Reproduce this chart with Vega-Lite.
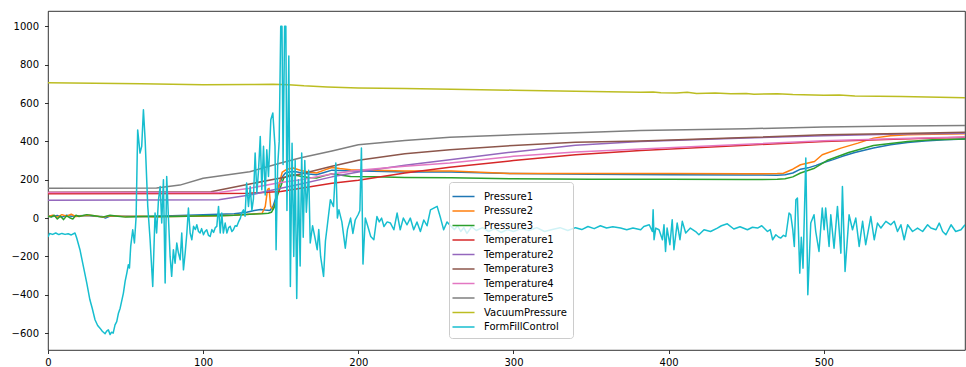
{
"$schema": "https://vega.github.io/schema/vega-lite/v6.json",
"width": 917, "height": 339,
"autosize": {"type": "none"},
"padding": {"left": 48, "top": 11, "right": 1, "bottom": 17},
"background": "white",
"config": {"view": {"stroke": "#000", "strokeWidth": 0.8}, "font": "DejaVu Sans"},
"data": {"values": [
{"s":"Pressure1","x":0,"y":12},{"s":"Pressure1","x":3,"y":8},{"s":"Pressure1","x":6,"y":14},{"s":"Pressure1","x":9,"y":5},{"s":"Pressure1","x":12,"y":15},{"s":"Pressure1","x":15,"y":10},{"s":"Pressure1","x":20,"y":12},{"s":"Pressure1","x":25,"y":14},{"s":"Pressure1","x":30,"y":10},{"s":"Pressure1","x":35,"y":8},{"s":"Pressure1","x":37,"y":0},{"s":"Pressure1","x":40,"y":10},{"s":"Pressure1","x":50,"y":10},{"s":"Pressure1","x":60,"y":8},{"s":"Pressure1","x":70,"y":10},{"s":"Pressure1","x":80,"y":12},{"s":"Pressure1","x":90,"y":15},{"s":"Pressure1","x":100,"y":18},{"s":"Pressure1","x":110,"y":20},{"s":"Pressure1","x":120,"y":22},{"s":"Pressure1","x":128,"y":30},{"s":"Pressure1","x":133,"y":40},{"s":"Pressure1","x":137,"y":45},{"s":"Pressure1","x":140,"y":42},{"s":"Pressure1","x":143,"y":40},{"s":"Pressure1","x":145,"y":60},{"s":"Pressure1","x":147,"y":110},{"s":"Pressure1","x":149,"y":170},{"s":"Pressure1","x":151,"y":215},{"s":"Pressure1","x":153,"y":235},{"s":"Pressure1","x":156,"y":242},{"s":"Pressure1","x":159,"y":243},{"s":"Pressure1","x":163,"y":236},{"s":"Pressure1","x":168,"y":230},{"s":"Pressure1","x":173,"y":226},{"s":"Pressure1","x":178,"y":238},{"s":"Pressure1","x":183,"y":250},{"s":"Pressure1","x":188,"y":248},{"s":"Pressure1","x":195,"y":245},{"s":"Pressure1","x":210,"y":244},{"s":"Pressure1","x":230,"y":240},{"s":"Pressure1","x":260,"y":240},{"s":"Pressure1","x":300,"y":232},{"s":"Pressure1","x":350,"y":228},{"s":"Pressure1","x":400,"y":226},{"s":"Pressure1","x":450,"y":225},{"s":"Pressure1","x":470,"y":224},{"s":"Pressure1","x":475,"y":226},{"s":"Pressure1","x":480,"y":235},{"s":"Pressure1","x":485,"y":255},{"s":"Pressure1","x":490,"y":262},{"s":"Pressure1","x":495,"y":275},{"s":"Pressure1","x":500,"y":290},{"s":"Pressure1","x":506,"y":305},{"s":"Pressure1","x":512,"y":322},{"s":"Pressure1","x":520,"y":342},{"s":"Pressure1","x":532,"y":365},{"s":"Pressure1","x":543,"y":382},{"s":"Pressure1","x":554,"y":394},{"s":"Pressure1","x":565,"y":402},{"s":"Pressure1","x":578,"y":408},{"s":"Pressure1","x":591,"y":412},
{"s":"Pressure2","x":0,"y":8},{"s":"Pressure2","x":3,"y":15},{"s":"Pressure2","x":6,"y":5},{"s":"Pressure2","x":9,"y":18},{"s":"Pressure2","x":12,"y":10},{"s":"Pressure2","x":15,"y":20},{"s":"Pressure2","x":18,"y":8},{"s":"Pressure2","x":22,"y":12},{"s":"Pressure2","x":27,"y":15},{"s":"Pressure2","x":32,"y":10},{"s":"Pressure2","x":36,"y":5},{"s":"Pressure2","x":40,"y":12},{"s":"Pressure2","x":50,"y":8},{"s":"Pressure2","x":60,"y":10},{"s":"Pressure2","x":70,"y":6},{"s":"Pressure2","x":80,"y":8},{"s":"Pressure2","x":90,"y":10},{"s":"Pressure2","x":100,"y":10},{"s":"Pressure2","x":110,"y":12},{"s":"Pressure2","x":120,"y":15},{"s":"Pressure2","x":130,"y":20},{"s":"Pressure2","x":138,"y":25},{"s":"Pressure2","x":140,"y":60},{"s":"Pressure2","x":141.5,"y":150},{"s":"Pressure2","x":142.5,"y":155},{"s":"Pressure2","x":143.5,"y":60},{"s":"Pressure2","x":145,"y":45},{"s":"Pressure2","x":147,"y":90},{"s":"Pressure2","x":149,"y":180},{"s":"Pressure2","x":151,"y":240},{"s":"Pressure2","x":154,"y":255},{"s":"Pressure2","x":158,"y":261},{"s":"Pressure2","x":163,"y":248},{"s":"Pressure2","x":168,"y":240},{"s":"Pressure2","x":173,"y":235},{"s":"Pressure2","x":178,"y":250},{"s":"Pressure2","x":183,"y":264},{"s":"Pressure2","x":188,"y":258},{"s":"Pressure2","x":195,"y":252},{"s":"Pressure2","x":210,"y":250},{"s":"Pressure2","x":230,"y":245},{"s":"Pressure2","x":260,"y":245},{"s":"Pressure2","x":300,"y":232},{"s":"Pressure2","x":350,"y":232},{"s":"Pressure2","x":400,"y":232},{"s":"Pressure2","x":450,"y":231},{"s":"Pressure2","x":470,"y":232},{"s":"Pressure2","x":474,"y":234},{"s":"Pressure2","x":480,"y":255},{"s":"Pressure2","x":485,"y":278},{"s":"Pressure2","x":494,"y":295},{"s":"Pressure2","x":499,"y":330},{"s":"Pressure2","x":511,"y":365},{"s":"Pressure2","x":522,"y":391},{"s":"Pressure2","x":532,"y":417},{"s":"Pressure2","x":543,"y":429},{"s":"Pressure2","x":554,"y":434},{"s":"Pressure2","x":570,"y":437},{"s":"Pressure2","x":591,"y":440},
{"s":"Pressure3","x":0,"y":10},{"s":"Pressure3","x":2,"y":5},{"s":"Pressure3","x":4,"y":15},{"s":"Pressure3","x":6,"y":-5},{"s":"Pressure3","x":8,"y":10},{"s":"Pressure3","x":10,"y":-8},{"s":"Pressure3","x":12,"y":12},{"s":"Pressure3","x":14,"y":2},{"s":"Pressure3","x":16,"y":-5},{"s":"Pressure3","x":18,"y":15},{"s":"Pressure3","x":20,"y":8},{"s":"Pressure3","x":25,"y":18},{"s":"Pressure3","x":30,"y":12},{"s":"Pressure3","x":35,"y":5},{"s":"Pressure3","x":40,"y":15},{"s":"Pressure3","x":45,"y":10},{"s":"Pressure3","x":50,"y":5},{"s":"Pressure3","x":60,"y":8},{"s":"Pressure3","x":70,"y":10},{"s":"Pressure3","x":80,"y":8},{"s":"Pressure3","x":90,"y":10},{"s":"Pressure3","x":100,"y":12},{"s":"Pressure3","x":110,"y":12},{"s":"Pressure3","x":120,"y":15},{"s":"Pressure3","x":130,"y":20},{"s":"Pressure3","x":138,"y":22},{"s":"Pressure3","x":142,"y":25},{"s":"Pressure3","x":144,"y":30},{"s":"Pressure3","x":146,"y":60},{"s":"Pressure3","x":148,"y":120},{"s":"Pressure3","x":150,"y":165},{"s":"Pressure3","x":152,"y":210},{"s":"Pressure3","x":155,"y":222},{"s":"Pressure3","x":158,"y":226},{"s":"Pressure3","x":163,"y":218},{"s":"Pressure3","x":168,"y":212},{"s":"Pressure3","x":173,"y":209},{"s":"Pressure3","x":178,"y":220},{"s":"Pressure3","x":183,"y":231},{"s":"Pressure3","x":188,"y":225},{"s":"Pressure3","x":195,"y":217},{"s":"Pressure3","x":210,"y":215},{"s":"Pressure3","x":230,"y":212},{"s":"Pressure3","x":260,"y":210},{"s":"Pressure3","x":300,"y":205},{"s":"Pressure3","x":350,"y":203},{"s":"Pressure3","x":400,"y":202},{"s":"Pressure3","x":450,"y":201},{"s":"Pressure3","x":470,"y":202},{"s":"Pressure3","x":475,"y":205},{"s":"Pressure3","x":480,"y":215},{"s":"Pressure3","x":485,"y":235},{"s":"Pressure3","x":494,"y":260},{"s":"Pressure3","x":502,"y":300},{"s":"Pressure3","x":516,"y":342},{"s":"Pressure3","x":532,"y":379},{"s":"Pressure3","x":554,"y":400},{"s":"Pressure3","x":570,"y":408},{"s":"Pressure3","x":591,"y":412},
{"s":"Temperature1","x":0,"y":127},{"s":"Temperature1","x":110,"y":128},{"s":"Temperature1","x":130,"y":130},{"s":"Temperature1","x":150,"y":139},{"s":"Temperature1","x":163,"y":156},{"s":"Temperature1","x":183,"y":182},{"s":"Temperature1","x":200,"y":197},{"s":"Temperature1","x":230,"y":235},{"s":"Temperature1","x":259,"y":265},{"s":"Temperature1","x":300,"y":300},{"s":"Temperature1","x":340,"y":330},{"s":"Temperature1","x":382,"y":353},{"s":"Temperature1","x":450,"y":380},{"s":"Temperature1","x":500,"y":400},{"s":"Temperature1","x":550,"y":413},{"s":"Temperature1","x":591,"y":422},
{"s":"Temperature2","x":0,"y":93},{"s":"Temperature2","x":110,"y":95},{"s":"Temperature2","x":130,"y":120},{"s":"Temperature2","x":150,"y":156},{"s":"Temperature2","x":163,"y":178},{"s":"Temperature2","x":183,"y":215},{"s":"Temperature2","x":200,"y":240},{"s":"Temperature2","x":230,"y":275},{"s":"Temperature2","x":259,"y":304},{"s":"Temperature2","x":300,"y":345},{"s":"Temperature2","x":340,"y":380},{"s":"Temperature2","x":382,"y":400},{"s":"Temperature2","x":450,"y":418},{"s":"Temperature2","x":500,"y":430},{"s":"Temperature2","x":550,"y":438},{"s":"Temperature2","x":591,"y":443},
{"s":"Temperature3","x":0,"y":135},{"s":"Temperature3","x":105,"y":137},{"s":"Temperature3","x":130,"y":178},{"s":"Temperature3","x":150,"y":209},{"s":"Temperature3","x":163,"y":230},{"s":"Temperature3","x":183,"y":270},{"s":"Temperature3","x":200,"y":302},{"s":"Temperature3","x":230,"y":335},{"s":"Temperature3","x":259,"y":356},{"s":"Temperature3","x":300,"y":379},{"s":"Temperature3","x":340,"y":395},{"s":"Temperature3","x":382,"y":402},{"s":"Temperature3","x":450,"y":420},{"s":"Temperature3","x":500,"y":434},{"s":"Temperature3","x":550,"y":441},{"s":"Temperature3","x":591,"y":447},
{"s":"Temperature4","x":0,"y":133},{"s":"Temperature4","x":110,"y":134},{"s":"Temperature4","x":130,"y":156},{"s":"Temperature4","x":150,"y":186},{"s":"Temperature4","x":163,"y":200},{"s":"Temperature4","x":183,"y":230},{"s":"Temperature4","x":200,"y":250},{"s":"Temperature4","x":230,"y":270},{"s":"Temperature4","x":259,"y":287},{"s":"Temperature4","x":300,"y":322},{"s":"Temperature4","x":340,"y":345},{"s":"Temperature4","x":382,"y":360},{"s":"Temperature4","x":450,"y":385},{"s":"Temperature4","x":500,"y":403},{"s":"Temperature4","x":550,"y":415},{"s":"Temperature4","x":591,"y":423},
{"s":"Temperature5","x":0,"y":156},{"s":"Temperature5","x":70,"y":157},{"s":"Temperature5","x":85,"y":172},{"s":"Temperature5","x":100,"y":208},{"s":"Temperature5","x":130,"y":242},{"s":"Temperature5","x":150,"y":287},{"s":"Temperature5","x":163,"y":315},{"s":"Temperature5","x":183,"y":350},{"s":"Temperature5","x":200,"y":382},{"s":"Temperature5","x":230,"y":405},{"s":"Temperature5","x":259,"y":422},{"s":"Temperature5","x":300,"y":434},{"s":"Temperature5","x":350,"y":448},{"s":"Temperature5","x":382,"y":457},{"s":"Temperature5","x":450,"y":466},{"s":"Temperature5","x":500,"y":475},{"s":"Temperature5","x":550,"y":480},{"s":"Temperature5","x":591,"y":483},
{"s":"VacuumPressure","x":0,"y":706},{"s":"VacuumPressure","x":30,"y":703},{"s":"VacuumPressure","x":60,"y":700},{"s":"VacuumPressure","x":100,"y":695},{"s":"VacuumPressure","x":130,"y":697},{"s":"VacuumPressure","x":145,"y":698},{"s":"VacuumPressure","x":155,"y":696},{"s":"VacuumPressure","x":165,"y":690},{"s":"VacuumPressure","x":180,"y":684},{"s":"VacuumPressure","x":200,"y":679},{"s":"VacuumPressure","x":230,"y":676},{"s":"VacuumPressure","x":260,"y":672},{"s":"VacuumPressure","x":300,"y":667},{"s":"VacuumPressure","x":340,"y":662},{"s":"VacuumPressure","x":382,"y":656},{"s":"VacuumPressure","x":390,"y":657},{"s":"VacuumPressure","x":395,"y":654},{"s":"VacuumPressure","x":405,"y":652},{"s":"VacuumPressure","x":412,"y":656},{"s":"VacuumPressure","x":418,"y":650},{"s":"VacuumPressure","x":430,"y":652},{"s":"VacuumPressure","x":440,"y":648},{"s":"VacuumPressure","x":450,"y":650},{"s":"VacuumPressure","x":455,"y":646},{"s":"VacuumPressure","x":470,"y":648},{"s":"VacuumPressure","x":480,"y":644},{"s":"VacuumPressure","x":500,"y":641},{"s":"VacuumPressure","x":510,"y":642},{"s":"VacuumPressure","x":520,"y":637},{"s":"VacuumPressure","x":550,"y":634},{"s":"VacuumPressure","x":591,"y":627},
{"s":"FormFillControl","x":0,"y":-99},{"s":"FormFillControl","x":1,"y":-80},{"s":"FormFillControl","x":3,"y":-85},{"s":"FormFillControl","x":5,"y":-78},{"s":"FormFillControl","x":7,"y":-86},{"s":"FormFillControl","x":9,"y":-80},{"s":"FormFillControl","x":11,"y":-85},{"s":"FormFillControl","x":13,"y":-82},{"s":"FormFillControl","x":15,"y":-88},{"s":"FormFillControl","x":17.4,"y":-78},{"s":"FormFillControl","x":18.5,"y":-104},{"s":"FormFillControl","x":20.6,"y":-165},{"s":"FormFillControl","x":22.8,"y":-252},{"s":"FormFillControl","x":25,"y":-339},{"s":"FormFillControl","x":27,"y":-426},{"s":"FormFillControl","x":28.5,"y":-470},{"s":"FormFillControl","x":30.3,"y":-530},{"s":"FormFillControl","x":32,"y":-560},{"s":"FormFillControl","x":33.5,"y":-574},{"s":"FormFillControl","x":35,"y":-590},{"s":"FormFillControl","x":36.8,"y":-603},{"s":"FormFillControl","x":37.8,"y":-590},{"s":"FormFillControl","x":38.9,"y":-583},{"s":"FormFillControl","x":40,"y":-607},{"s":"FormFillControl","x":41,"y":-595},{"s":"FormFillControl","x":42,"y":-600},{"s":"FormFillControl","x":43.2,"y":-557},{"s":"FormFillControl","x":44.3,"y":-540},{"s":"FormFillControl","x":45.4,"y":-496},{"s":"FormFillControl","x":46.5,"y":-470},{"s":"FormFillControl","x":48.6,"y":-391},{"s":"FormFillControl","x":49.7,"y":-330},{"s":"FormFillControl","x":50.8,"y":-287},{"s":"FormFillControl","x":51.8,"y":-243},{"s":"FormFillControl","x":52.5,"y":-260},{"s":"FormFillControl","x":53.3,"y":-148},{"s":"FormFillControl","x":54.6,"y":-61},{"s":"FormFillControl","x":55.7,"y":-130},{"s":"FormFillControl","x":56.8,"y":8},{"s":"FormFillControl","x":57.8,"y":460},{"s":"FormFillControl","x":59.3,"y":339},{"s":"FormFillControl","x":60.4,"y":374},{"s":"FormFillControl","x":61.5,"y":565},{"s":"FormFillControl","x":62.6,"y":408},{"s":"FormFillControl","x":64.3,"y":61},{"s":"FormFillControl","x":65.8,"y":-113},{"s":"FormFillControl","x":67.5,"y":-357},{"s":"FormFillControl","x":69,"y":26},{"s":"FormFillControl","x":70,"y":-78},{"s":"FormFillControl","x":71.2,"y":95},{"s":"FormFillControl","x":72.3,"y":165},{"s":"FormFillControl","x":73.3,"y":-26},{"s":"FormFillControl","x":74.4,"y":200},{"s":"FormFillControl","x":75.5,"y":-339},{"s":"FormFillControl","x":76.5,"y":217},{"s":"FormFillControl","x":77.6,"y":8},{"s":"FormFillControl","x":78.7,"y":-200},{"s":"FormFillControl","x":79.7,"y":-304},{"s":"FormFillControl","x":80.8,"y":-165},{"s":"FormFillControl","x":81.9,"y":-235},{"s":"FormFillControl","x":83,"y":-130},{"s":"FormFillControl","x":84,"y":-180},{"s":"FormFillControl","x":85.2,"y":-217},{"s":"FormFillControl","x":86.2,"y":-78},{"s":"FormFillControl","x":87.3,"y":-270},{"s":"FormFillControl","x":88.4,"y":-183},{"s":"FormFillControl","x":89.5,"y":-78},{"s":"FormFillControl","x":90.5,"y":52},{"s":"FormFillControl","x":91.6,"y":-78},{"s":"FormFillControl","x":92.7,"y":-113},{"s":"FormFillControl","x":93.8,"y":-43},{"s":"FormFillControl","x":95,"y":-60},{"s":"FormFillControl","x":95.9,"y":-35},{"s":"FormFillControl","x":97,"y":-70},{"s":"FormFillControl","x":98,"y":-78},{"s":"FormFillControl","x":99,"y":-55},{"s":"FormFillControl","x":100.2,"y":-87},{"s":"FormFillControl","x":101.2,"y":-70},{"s":"FormFillControl","x":102.3,"y":-61},{"s":"FormFillControl","x":103.4,"y":-90},{"s":"FormFillControl","x":104.5,"y":-96},{"s":"FormFillControl","x":105.6,"y":-60},{"s":"FormFillControl","x":106.7,"y":-75},{"s":"FormFillControl","x":107.8,"y":-50},{"s":"FormFillControl","x":108.8,"y":-43},{"s":"FormFillControl","x":109.9,"y":61},{"s":"FormFillControl","x":111,"y":-78},{"s":"FormFillControl","x":112,"y":26},{"s":"FormFillControl","x":113,"y":-78},{"s":"FormFillControl","x":114.2,"y":-26},{"s":"FormFillControl","x":115.3,"y":-78},{"s":"FormFillControl","x":116.4,"y":-50},{"s":"FormFillControl","x":117.4,"y":-43},{"s":"FormFillControl","x":118.5,"y":-70},{"s":"FormFillControl","x":119.5,"y":-61},{"s":"FormFillControl","x":120.6,"y":-40},{"s":"FormFillControl","x":121.7,"y":-43},{"s":"FormFillControl","x":122.8,"y":-20},{"s":"FormFillControl","x":124,"y":0},{"s":"FormFillControl","x":125,"y":30},{"s":"FormFillControl","x":126,"y":43},{"s":"FormFillControl","x":127,"y":10},{"s":"FormFillControl","x":128,"y":183},{"s":"FormFillControl","x":129.2,"y":61},{"s":"FormFillControl","x":130.3,"y":165},{"s":"FormFillControl","x":131.4,"y":40},{"s":"FormFillControl","x":132.4,"y":100},{"s":"FormFillControl","x":133.5,"y":339},{"s":"FormFillControl","x":134.6,"y":130},{"s":"FormFillControl","x":135.7,"y":250},{"s":"FormFillControl","x":136.8,"y":426},{"s":"FormFillControl","x":137.8,"y":148},{"s":"FormFillControl","x":138.9,"y":374},{"s":"FormFillControl","x":140,"y":120},{"s":"FormFillControl","x":141,"y":356},{"s":"FormFillControl","x":142.1,"y":217},{"s":"FormFillControl","x":143.6,"y":513},{"s":"FormFillControl","x":144.9,"y":548},{"s":"FormFillControl","x":146.3,"y":374},{"s":"FormFillControl","x":147,"y":-165},{"s":"FormFillControl","x":148,"y":269},{"s":"FormFillControl","x":149,"y":400},{"s":"FormFillControl","x":150,"y":1000},{"s":"FormFillControl","x":150.8,"y":1000},{"s":"FormFillControl","x":151.5,"y":280},{"s":"FormFillControl","x":152.5,"y":1000},{"s":"FormFillControl","x":153.3,"y":1000},{"s":"FormFillControl","x":154,"y":40},{"s":"FormFillControl","x":155.2,"y":845},{"s":"FormFillControl","x":156.2,"y":-357},{"s":"FormFillControl","x":157.3,"y":390},{"s":"FormFillControl","x":158.4,"y":-200},{"s":"FormFillControl","x":159.3,"y":300},{"s":"FormFillControl","x":160.3,"y":-420},{"s":"FormFillControl","x":161.4,"y":200},{"s":"FormFillControl","x":162.5,"y":-250},{"s":"FormFillControl","x":163.5,"y":340},{"s":"FormFillControl","x":164.5,"y":-100},{"s":"FormFillControl","x":165.5,"y":300},{"s":"FormFillControl","x":166.5,"y":30},{"s":"FormFillControl","x":168,"y":250},{"s":"FormFillControl","x":169,"y":-130},{"s":"FormFillControl","x":170.5,"y":-40},{"s":"FormFillControl","x":172,"y":-100},{"s":"FormFillControl","x":173.5,"y":-165},{"s":"FormFillControl","x":174.5,"y":-60},{"s":"FormFillControl","x":175.7,"y":-200},{"s":"FormFillControl","x":177.6,"y":-304},{"s":"FormFillControl","x":178.8,"y":-120},{"s":"FormFillControl","x":180,"y":-40},{"s":"FormFillControl","x":182,"y":96},{"s":"FormFillControl","x":184,"y":60},{"s":"FormFillControl","x":185.5,"y":287},{"s":"FormFillControl","x":186.5,"y":0},{"s":"FormFillControl","x":187.5,"y":43},{"s":"FormFillControl","x":189.4,"y":-20},{"s":"FormFillControl","x":191.6,"y":-157},{"s":"FormFillControl","x":193,"y":-60},{"s":"FormFillControl","x":195,"y":0},{"s":"FormFillControl","x":196.5,"y":-80},{"s":"FormFillControl","x":198,"y":-10},{"s":"FormFillControl","x":200,"y":20},{"s":"FormFillControl","x":201,"y":40},{"s":"FormFillControl","x":202,"y":365},{"s":"FormFillControl","x":203,"y":-240},{"s":"FormFillControl","x":204.5,"y":0},{"s":"FormFillControl","x":206,"y":-40},{"s":"FormFillControl","x":208,"y":-96},{"s":"FormFillControl","x":210,"y":-113},{"s":"FormFillControl","x":212,"y":8},{"s":"FormFillControl","x":213.5,"y":-20},{"s":"FormFillControl","x":215,"y":0},{"s":"FormFillControl","x":216.5,"y":-44},{"s":"FormFillControl","x":218.6,"y":-20},{"s":"FormFillControl","x":220.7,"y":-26},{"s":"FormFillControl","x":222.9,"y":-61},{"s":"FormFillControl","x":225,"y":26},{"s":"FormFillControl","x":227,"y":-61},{"s":"FormFillControl","x":229,"y":0},{"s":"FormFillControl","x":231.4,"y":-35},{"s":"FormFillControl","x":233.5,"y":0},{"s":"FormFillControl","x":235.7,"y":-61},{"s":"FormFillControl","x":237.8,"y":-20},{"s":"FormFillControl","x":240,"y":-70},{"s":"FormFillControl","x":242.2,"y":-10},{"s":"FormFillControl","x":244.3,"y":-40},{"s":"FormFillControl","x":246.5,"y":43},{"s":"FormFillControl","x":248.6,"y":52},{"s":"FormFillControl","x":250.8,"y":61},{"s":"FormFillControl","x":253,"y":0},{"s":"FormFillControl","x":255,"y":-61},{"s":"FormFillControl","x":257.2,"y":-20},{"s":"FormFillControl","x":259.4,"y":-40},{"s":"FormFillControl","x":262,"y":-60},{"s":"FormFillControl","x":264,"y":-40},{"s":"FormFillControl","x":266,"y":-70},{"s":"FormFillControl","x":268,"y":-50},{"s":"FormFillControl","x":270,"y":-80},{"s":"FormFillControl","x":273,"y":-45},{"s":"FormFillControl","x":276,"y":-65},{"s":"FormFillControl","x":280,"y":-50},{"s":"FormFillControl","x":284,"y":-70},{"s":"FormFillControl","x":288,"y":-55},{"s":"FormFillControl","x":292,"y":-75},{"s":"FormFillControl","x":296,"y":-60},{"s":"FormFillControl","x":300,"y":-70},{"s":"FormFillControl","x":305,"y":-55},{"s":"FormFillControl","x":310,"y":-65},{"s":"FormFillControl","x":315,"y":-50},{"s":"FormFillControl","x":320,"y":-70},{"s":"FormFillControl","x":325,"y":-60},{"s":"FormFillControl","x":330,"y":-50},{"s":"FormFillControl","x":335,"y":-65},{"s":"FormFillControl","x":340,"y":-50},{"s":"FormFillControl","x":344,"y":-60},{"s":"FormFillControl","x":348,"y":-44},{"s":"FormFillControl","x":352,"y":-55},{"s":"FormFillControl","x":356,"y":-40},{"s":"FormFillControl","x":360,"y":-52},{"s":"FormFillControl","x":364,"y":-45},{"s":"FormFillControl","x":369,"y":-52},{"s":"FormFillControl","x":373,"y":-61},{"s":"FormFillControl","x":377,"y":-52},{"s":"FormFillControl","x":382,"y":-61},{"s":"FormFillControl","x":384,"y":-44},{"s":"FormFillControl","x":387.5,"y":-35},{"s":"FormFillControl","x":389.5,"y":-70},{"s":"FormFillControl","x":390,"y":43},{"s":"FormFillControl","x":390.6,"y":-113},{"s":"FormFillControl","x":391.7,"y":-52},{"s":"FormFillControl","x":393.8,"y":-61},{"s":"FormFillControl","x":396,"y":-113},{"s":"FormFillControl","x":397,"y":-35},{"s":"FormFillControl","x":398,"y":-174},{"s":"FormFillControl","x":399,"y":-52},{"s":"FormFillControl","x":400.8,"y":-139},{"s":"FormFillControl","x":402.3,"y":-9},{"s":"FormFillControl","x":403.4,"y":-165},{"s":"FormFillControl","x":405.5,"y":-26},{"s":"FormFillControl","x":407.3,"y":-113},{"s":"FormFillControl","x":408.8,"y":-17},{"s":"FormFillControl","x":411,"y":-78},{"s":"FormFillControl","x":414,"y":-52},{"s":"FormFillControl","x":417.4,"y":-70},{"s":"FormFillControl","x":419.5,"y":-87},{"s":"FormFillControl","x":422.8,"y":-61},{"s":"FormFillControl","x":427,"y":-70},{"s":"FormFillControl","x":431.4,"y":-52},{"s":"FormFillControl","x":434,"y":-40},{"s":"FormFillControl","x":437.8,"y":-30},{"s":"FormFillControl","x":442,"y":-57},{"s":"FormFillControl","x":446,"y":-45},{"s":"FormFillControl","x":450.8,"y":-61},{"s":"FormFillControl","x":454,"y":-48},{"s":"FormFillControl","x":457.3,"y":-52},{"s":"FormFillControl","x":460,"y":-40},{"s":"FormFillControl","x":463.7,"y":-70},{"s":"FormFillControl","x":465.5,"y":-60},{"s":"FormFillControl","x":467,"y":-113},{"s":"FormFillControl","x":469.1,"y":-87},{"s":"FormFillControl","x":471,"y":-100},{"s":"FormFillControl","x":472.3,"y":-104},{"s":"FormFillControl","x":474,"y":-90},{"s":"FormFillControl","x":475.5,"y":-96},{"s":"FormFillControl","x":477.6,"y":26},{"s":"FormFillControl","x":478.7,"y":17},{"s":"FormFillControl","x":480,"y":-60},{"s":"FormFillControl","x":481,"y":-148},{"s":"FormFillControl","x":482,"y":96},{"s":"FormFillControl","x":483,"y":104},{"s":"FormFillControl","x":484.5,"y":-287},{"s":"FormFillControl","x":485.5,"y":-100},{"s":"FormFillControl","x":486.6,"y":-261},{"s":"FormFillControl","x":488.4,"y":313},{"s":"FormFillControl","x":489.7,"y":-400},{"s":"FormFillControl","x":491.6,"y":-26},{"s":"FormFillControl","x":493.7,"y":17},{"s":"FormFillControl","x":494.8,"y":-70},{"s":"FormFillControl","x":496.9,"y":-174},{"s":"FormFillControl","x":499,"y":52},{"s":"FormFillControl","x":500.2,"y":-61},{"s":"FormFillControl","x":501.2,"y":52},{"s":"FormFillControl","x":503.4,"y":-148},{"s":"FormFillControl","x":504.5,"y":17},{"s":"FormFillControl","x":506.6,"y":-157},{"s":"FormFillControl","x":508.8,"y":61},{"s":"FormFillControl","x":511,"y":-183},{"s":"FormFillControl","x":512,"y":165},{"s":"FormFillControl","x":513.7,"y":-278},{"s":"FormFillControl","x":516.3,"y":17},{"s":"FormFillControl","x":518.5,"y":-61},{"s":"FormFillControl","x":520.6,"y":0},{"s":"FormFillControl","x":522.8,"y":-148},{"s":"FormFillControl","x":525,"y":-17},{"s":"FormFillControl","x":527,"y":-139},{"s":"FormFillControl","x":530.3,"y":8},{"s":"FormFillControl","x":532.5,"y":-113},{"s":"FormFillControl","x":534.6,"y":-26},{"s":"FormFillControl","x":536.8,"y":-52},{"s":"FormFillControl","x":540,"y":-17},{"s":"FormFillControl","x":543.2,"y":-35},{"s":"FormFillControl","x":545.4,"y":-17},{"s":"FormFillControl","x":547.5,"y":-70},{"s":"FormFillControl","x":549.7,"y":-35},{"s":"FormFillControl","x":551.8,"y":-113},{"s":"FormFillControl","x":554,"y":-35},{"s":"FormFillControl","x":557.2,"y":-70},{"s":"FormFillControl","x":560.4,"y":-52},{"s":"FormFillControl","x":563.7,"y":-70},{"s":"FormFillControl","x":566.9,"y":-35},{"s":"FormFillControl","x":569,"y":-52},{"s":"FormFillControl","x":572.3,"y":-61},{"s":"FormFillControl","x":574.4,"y":-26},{"s":"FormFillControl","x":576.6,"y":-70},{"s":"FormFillControl","x":578.7,"y":-87},{"s":"FormFillControl","x":582,"y":-35},{"s":"FormFillControl","x":585,"y":-70},{"s":"FormFillControl","x":588.4,"y":-61},{"s":"FormFillControl","x":591,"y":-35}
]},
"mark": {"type": "line", "strokeWidth": 1.5, "strokeJoin": "round", "clip": true},
"encoding": {
  "x": {"field": "x", "type": "quantitative",
        "scale": {"domain": [0, 591], "nice": false, "zero": false},
        "axis": {"title": null, "values": [0,100,200,300,400,500], "grid": false, "domain": false, "labelFlush": false, "format": "d",
                 "tickColor": "#000", "tickWidth": 0.8, "tickSize": 3.5, "labelPadding": 3.5,
                 "labelFont": "DejaVu Sans", "labelFontSize": 10, "labelColor": "#000"}},
  "y": {"field": "y", "type": "quantitative",
        "scale": {"domain": [-688, 1080], "nice": false, "zero": false},
        "axis": {"title": null, "values": [-600,-400,-200,0,200,400,600,800,1000], "grid": false, "domain": false, "labelFlush": false, "format": "d",
                 "tickColor": "#000", "tickWidth": 0.8, "tickSize": 3.5, "labelPadding": 6,
                 "labelFont": "DejaVu Sans", "labelFontSize": 10, "labelColor": "#000"}},
  "color": {"field": "s", "type": "nominal",
            "scale": {"domain": ["Pressure1","Pressure2","Pressure3","Temperature1","Temperature2","Temperature3","Temperature4","Temperature5","VacuumPressure","FormFillControl"],
                      "range": ["#1f77b4","#ff7f0e","#2ca02c","#d62728","#9467bd","#8c564b","#e377c2","#7f7f7f","#bcbd22","#17becf"]},
            "legend": {"title": null, "orient": "none", "legendX": 401, "legendY": 171,
                       "padding": 6, "rowPadding": 0.5, "labelOffset": 12,
                       "symbolType": "M-1.47,0H1.47", "symbolSize": 225, "symbolStrokeWidth": 1.5,
                       "labelFont": "DejaVu Sans", "labelFontSize": 10, "labelColor": "#000",
                       "strokeColor": "#cccccc", "fillColor": "rgba(255,255,255,0.8)", "cornerRadius": 3}}
}
}
